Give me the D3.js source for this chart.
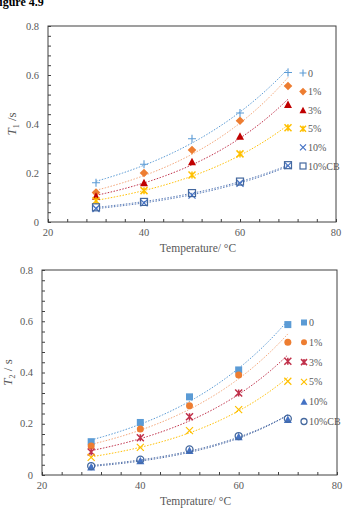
<!DOCTYPE html>
<html lang="en">
  <head>
    <meta charset="UTF-8" />
    <title>Figure 4.9</title>
    <script src="https://cdn.jsdelivr.net/npm/d3@7"></script>
    <style>
      body { margin: 0; background: #fff; }
    </style>
  </head>
  <body>
    <svg width="351" height="528" font-family="'Liberation Serif', 'DejaVu Serif', serif"></svg>
    <script>
      // temperatures (°C)
      const temps = [30, 40, 50, 60, 70];
      const seriesNames = ["0", "1%", "3%", "5%", "10%", "10%CB"];
      const xTicks = [20, 40, 60, 80];
      const yTicks = [0, 0.2, 0.4, 0.6, 0.8];

      // T1 values
      const t1_0 = [0.16, 0.236, 0.34, 0.445, 0.61];
      const t1_1 = [0.12, 0.2, 0.294, 0.413, 0.555];
      const t1_3 = [0.105, 0.16, 0.246, 0.35, 0.48];
      const t1_5 = [0.087, 0.128, 0.192, 0.278, 0.385];
      const t1_10 = [0.055, 0.078, 0.11, 0.158, 0.23];
      const t1_10cb = [0.06, 0.082, 0.118, 0.165, 0.232];

      // T2 values
      const t2_0 = [0.13, 0.205, 0.305, 0.41, 0.587];
      const t2_1 = [0.113, 0.18, 0.27, 0.39, 0.518];
      const t2_3 = [0.09, 0.145, 0.227, 0.32, 0.444];
      const t2_5 = [0.069, 0.108, 0.173, 0.255, 0.366];
      const t2_10 = [0.031, 0.056, 0.096, 0.149, 0.217];
      const t2_10cb = [0.035, 0.06, 0.1, 0.152, 0.22];

      const svg = d3.select("svg");
      const grey = "#595959";

      // title, partly off the edge as in the scan
      svg.append("text")
        .attr("x", -8).attr("y", 6)
        .attr("font-size", 12).attr("font-weight", "bold")
        .text("Figure 4.9");

      // marker shapes
      function marker(g, kind, color, s) {
        const h = s / 2;
        if (kind === "plus") {
          g.append("path").attr("d", `M${-h - 0.5},0H${h + 0.5}M0,${-h - 0.5}V${h + 0.5}`)
            .attr("stroke", color).attr("stroke-width", 1.1).attr("fill", "none");
        } else if (kind === "diamond") {
          const d = h + 0.8;
          g.append("path").attr("d", `M0,${-d}L${d},0L0,${d}L${-d},0Z`)
            .attr("fill", color);
        } else if (kind === "triangle") {
          g.append("path").attr("d", `M0,${-h - 0.5}L${h + 0.5},${h}L${-h - 0.5},${h}Z`)
            .attr("fill", color);
        } else if (kind === "star") {
          g.append("path").attr("d", `M${-h},${-h}L${h},${h}M${-h},${h}L${h},${-h}M0,${-h}V${h}`)
            .attr("stroke", color).attr("stroke-width", 1.5).attr("fill", "none");
        } else if (kind === "times") {
          g.append("path").attr("d", `M${-h},${-h}L${h},${h}M${-h},${h}L${h},${-h}`)
            .attr("stroke", color).attr("stroke-width", 1.2).attr("fill", "none");
        } else if (kind === "opensquare") {
          g.append("rect").attr("x", -h).attr("y", -h).attr("width", s).attr("height", s)
            .attr("stroke", color).attr("stroke-width", 1.2).attr("fill", "none");
        } else if (kind === "square") {
          g.append("rect").attr("x", -h).attr("y", -h).attr("width", s).attr("height", s)
            .attr("fill", color);
        } else if (kind === "circle") {
          g.append("circle").attr("r", h).attr("fill", color);
        } else if (kind === "opencircle") {
          g.append("circle").attr("r", h).attr("stroke", color)
            .attr("stroke-width", 1.3).attr("fill", "none");
        }
      }

      // exponential trendline y = a*e^(bx)
      function expFit(xs, ys) {
        const ly = ys.map(Math.log);
        const mx = d3.mean(xs), my = d3.mean(ly);
        const b = d3.sum(xs, (x, i) => (x - mx) * (ly[i] - my)) / d3.sum(xs, (x) => (x - mx) ** 2);
        const a = Math.exp(my - b * mx);
        return (x) => a * Math.exp(b * x);
      }

      function panel(cfg) {
        const x = d3.scaleLinear().domain([20, 80]).range([cfg.left, cfg.right]);
        const y = d3.scaleLinear().domain([0, 0.8]).range([cfg.bottom, cfg.top]);
        const g = svg.append("g");

        // frame
        g.append("rect")
          .attr("x", cfg.left).attr("y", cfg.top)
          .attr("width", cfg.right - cfg.left).attr("height", cfg.bottom - cfg.top)
          .attr("fill", "none").attr("stroke", "#404040").attr("stroke-width", 1);

        // inward ticks
        const xa = g.append("g").attr("transform", `translate(0,${cfg.bottom})`)
          .call(d3.axisTop(x).tickValues(d3.range(20, 81, 4)).tickSize(3).tickFormat(""));
        const ya = g.append("g").attr("transform", `translate(${cfg.left},0)`)
          .call(d3.axisRight(y).tickValues(d3.range(0, 0.81, 0.04)).tickSize(3).tickFormat(""));
        [xa, ya].forEach((a) => {
          a.select(".domain").remove();
          a.selectAll("line").attr("stroke", "#404040");
        });

        // tick labels
        g.selectAll(".xl").data(xTicks).join("text")
          .attr("x", (d) => x(d)).attr("y", cfg.bottom + 14)
          .attr("text-anchor", "middle").attr("font-size", 10.5).attr("fill", grey)
          .text((d) => d);
        g.selectAll(".yl").data(yTicks).join("text")
          .attr("x", cfg.left - 9).attr("y", (d) => y(d) + 3.5)
          .attr("text-anchor", "end").attr("font-size", 10.5).attr("fill", grey)
          .text((d) => d);

        // axis titles
        g.append("text")
          .attr("x", (cfg.left + cfg.right) / 2 + 6).attr("y", cfg.bottom + 30)
          .attr("text-anchor", "middle").attr("font-size", 11.5).attr("fill", grey)
          .text(cfg.xTitle);
        const yt = g.append("text")
          .attr("transform", `translate(${cfg.yTitleX},${(cfg.top + cfg.bottom) / 2}) rotate(-90)`)
          .attr("text-anchor", "middle").attr("font-size", 13).attr("fill", grey);
        yt.append("tspan").attr("font-style", "italic").text("T");
        yt.append("tspan").attr("font-size", 8).attr("dy", 3).text(cfg.sub);
        yt.append("tspan").attr("dy", -3).text(cfg.unit);

        // trendlines
        cfg.series.forEach((s) => {
          const f = expFit(temps, s.values);
          const xs = d3.range(30, 70.01, 0.5);
          g.append("path")
            .attr("d", d3.line().x((t) => x(t)).y((t) => y(f(t)))(xs))
            .attr("fill", "none").attr("stroke", s.line)
            .attr("stroke-width", 1).attr("stroke-dasharray", "1.5,1.5");
        });

        // markers
        cfg.series.forEach((s) => {
          s.values.forEach((v, i) => {
            const m = g.append("g").attr("transform", `translate(${x(temps[i])},${y(v)})`);
            marker(m, s.shape, s.color, 7);
          });
        });

        // legend
        cfg.series.forEach((s, i) => {
          const ly = cfg.legendY + i * cfg.legendStep;
          const m = g.append("g").attr("transform", `translate(${cfg.legendX},${ly})`);
          marker(m, s.shape, s.color, 6);
          g.append("text")
            .attr("x", cfg.legendX + 5).attr("y", ly + 3.5)
            .attr("font-size", 10).attr("fill", grey)
            .text(seriesNames[i]);
        });
      }

      panel({
        left: 48, right: 336, top: 26, bottom: 222,
        xTitle: "Temperature/  °C", sub: "1", unit: " /s", yTitleX: 16,
        legendX: 303, legendY: 73, legendStep: 18.6,
        series: [
          { values: t1_0, shape: "plus", color: "#5B9BD5", line: "#5B9BD5" },
          { values: t1_1, shape: "diamond", color: "#ED7D31", line: "#F4A77A" },
          { values: t1_3, shape: "triangle", color: "#C00000", line: "#C0304A" },
          { values: t1_5, shape: "star", color: "#FFC000", line: "#FFC000" },
          { values: t1_10, shape: "times", color: "#4472C4", line: "#5B7DB8" },
          { values: t1_10cb, shape: "opensquare", color: "#44689E", line: "#5B7DB8" },
        ],
      });

      panel({
        left: 42, right: 337, top: 270, bottom: 475,
        xTitle: "Temprature/  °C", sub: "2", unit: " / s", yTitleX: 12,
        legendX: 304, legendY: 322.5, legendStep: 19.8,
        series: [
          { values: t2_0, shape: "square", color: "#5B9BD5", line: "#5B9BD5" },
          { values: t2_1, shape: "circle", color: "#ED7D31", line: "#F4A77A" },
          { values: t2_3, shape: "star", color: "#C0304A", line: "#C0304A" },
          { values: t2_5, shape: "times", color: "#FFC000", line: "#FFC000" },
          { values: t2_10, shape: "triangle", color: "#4472C4", line: "#4F6EA8" },
          { values: t2_10cb, shape: "opencircle", color: "#44689E", line: "#4F6EA8" },
        ],
      });
    </script>
  </body>
</html>
